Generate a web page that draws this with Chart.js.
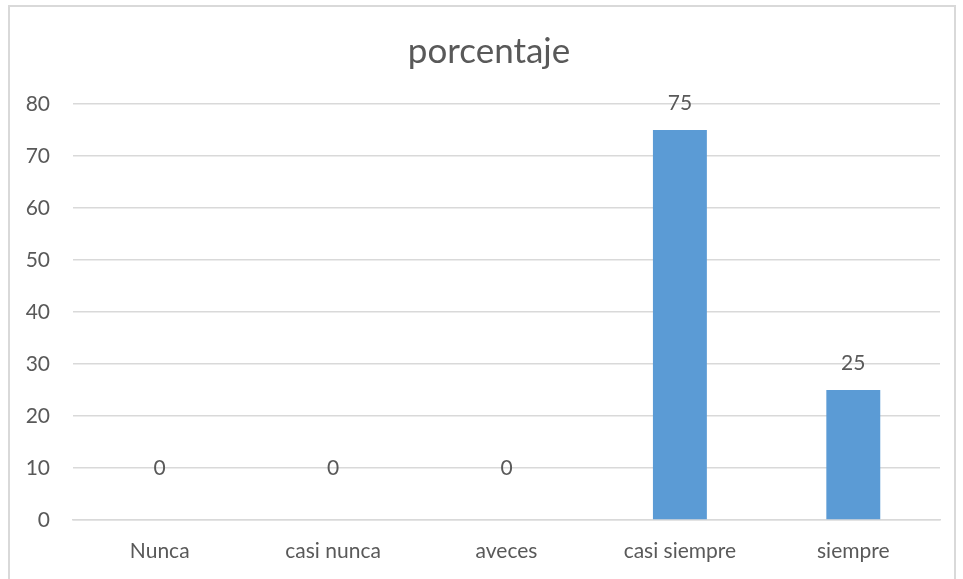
<!DOCTYPE html>
<html>
<head>
<meta charset="utf-8">
<script src="https://cdn.jsdelivr.net/npm/chart.js@4"></script>
<style>
  html, body { margin: 0; padding: 0; background: #fff; }
  #wrap { width: 963px; height: 579px; }
</style>
</head>
<body>
<div id="wrap"><canvas id="chart" width="963" height="579"></canvas></div>
<script>
  // Data
  const categories = ["Nunca", "casi nunca", "aveces", "casi siempre", "siempre"];
  const porcentaje = [0, 0, 0, 75, 25];
  const yTicks = [0, 10, 20, 30, 40, 50, 60, 70, 80];
  const chartTitle = "porcentaje";

  const textColor = "#595959";
  const gridColor = "#d9d9d9";
  const fontFamily = "Lato, 'Open Sans', sans-serif";

  // outer frame like the spreadsheet chart box, plus the title
  const framePlugin = {
    id: "frame",
    beforeDraw(chart) {
      const ctx = chart.ctx;
      ctx.save();
      ctx.fillStyle = "#fff";
      ctx.fillRect(0, 0, chart.width, chart.height);
      ctx.strokeStyle = gridColor;
      ctx.lineWidth = 2;
      ctx.strokeRect(9, 6, 946, 600);
      ctx.fillStyle = textColor;
      ctx.font = "35px " + fontFamily;
      ctx.textAlign = "center";
      ctx.textBaseline = "middle";
      ctx.fillText(chartTitle, 489, 52);
      ctx.restore();
    },
  };

  // value labels above bars
  const valueLabels = {
    id: "valueLabels",
    afterDatasetsDraw(chart) {
      const ctx = chart.ctx;
      const meta = chart.getDatasetMeta(0);
      ctx.save();
      ctx.fillStyle = textColor;
      ctx.font = "21px " + fontFamily;
      ctx.textAlign = "center";
      ctx.textBaseline = "middle";
      meta.data.forEach((bar, i) => {
        const v = porcentaje[i];
        const off = v === 0 ? 52 : 27;
        ctx.fillText(String(v), bar.x, bar.y - off);
      });
      ctx.restore();
    },
  };

  new Chart(document.getElementById("chart").getContext("2d"), {
    type: "bar",
    data: {
      labels: categories,
      datasets: [
        {
          label: chartTitle,
          data: porcentaje,
          backgroundColor: "#5b9bd5",
          borderWidth: 0,
          categoryPercentage: 1,
          barPercentage: 0.311,
        },
      ],
    },
    options: {
      responsive: false,
      animation: false,
      layout: { padding: { left: 0, right: 23, top: 104, bottom: 0 } },
      plugins: {
        legend: { display: false },
        tooltip: { enabled: false },
        title: { display: false },
      },
      scales: {
        x: {
          grid: { display: false, drawTicks: false },
          border: { display: true, color: gridColor, width: 1.5 },
          ticks: {
            color: textColor,
            font: { family: fontFamily, size: 21 },
            padding: 19,
          },
          afterFit(scale) {
            scale.height = 59;
          },
        },
        y: {
          min: 0,
          max: 80,
          afterBuildTicks(scale) {
            scale.ticks = yTicks.map((v) => ({ value: v }));
          },
          grid: { color: gridColor, lineWidth: 1.5, drawTicks: false },
          border: { display: false },
          ticks: {
            color: textColor,
            font: { family: fontFamily, size: 21 },
            padding: 23,
          },
          afterFit(scale) {
            scale.width = 73;
          },
        },
      },
    },
    plugins: [framePlugin, valueLabels],
  });
</script>
</body>
</html>
